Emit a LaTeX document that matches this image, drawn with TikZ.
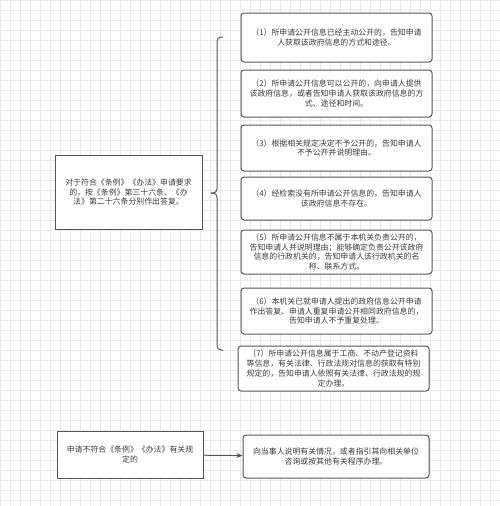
\documentclass[tikz,border=0pt]{standalone}
\usepackage{fontspec}
\setmainfont{Noto Sans CJK SC}
\usepackage{tikz}
\usetikzlibrary{arrows.meta, positioning}
\definecolor{boxline}{RGB}{85, 85, 85}
\definecolor{boxtext}{RGB}{60, 60, 60}
\definecolor{gridcol}{RGB}{232, 232, 232}
\tikzset{
    font=\fontsize{7.9pt}{9.8pt}\selectfont,
    optbox/.style={rectangle, rounded corners=3pt, draw=boxline, line width=1pt, fill=white, text=boxtext, align=center, inner sep=1pt, minimum width=191pt},
    casebox/.style={rectangle, draw=boxline, line width=0.9pt, fill=white, text=boxtext, align=center, inner sep=1pt},
    gridline/.style={draw=gridcol, line width=0.5pt},
    bracket/.style={draw=boxline, line width=1pt, rounded corners=4pt},
    arrow/.style={-{Stealth[length=6pt, width=5pt]}, draw=boxline, line width=1pt}
}

\begin{document}
\begin{tikzpicture}[x=1pt, y=-1pt]

    \useasboundingbox (0,0) rectangle (500,506);
    \fill[white] (0,0) rectangle (500,506);
    \draw[gridline, step=10pt] (0,0) grid (500,506);

    % Cases on the right
    \node (opt1) [optbox, minimum height=49pt] at (336.5,37.5) {（1）所申请公开信息已经主动公开的，告知申请\\人获取该政府信息的方式和途径。};
    \node (opt2) [optbox, minimum height=47pt, below=7pt of opt1] {（2）所申请公开信息可以公开的，向申请人提供\\该政府信息，或者告知申请人获取该政府信息的方\\式、途径和时间。};
    \node (opt3) [optbox, minimum height=46pt, below=7pt of opt2] {（3）根据相关规定决定不予公开的，告知申请人\\不予公开并说明理由。};
    \node (opt4) [optbox, minimum height=43pt, below=5pt of opt3] {（4）经检索没有所申请公开信息的，告知申请人\\该政府信息不存在。};
    \node (opt5) [optbox, minimum height=44pt, below=9pt of opt4] {（5）所申请公开信息不属于本机关负责公开的，\\告知申请人并说明理由；能够确定负责公开该政府\\信息的行政机关的，告知申请人该行政机关的名\\称、联系方式。};
    \node (opt6) [optbox, minimum height=46pt, below=13pt of opt5] {（6）本机关已就申请人提出的政府信息公开申请\\作出答复、申请人重复申请公开相同政府信息的，\\告知申请人不予重复处理。};
    \node (opt7) [optbox, minimum height=45pt, below=11pt of opt6, xshift=-3pt] {（7）所申请公开信息属于工商、不动产登记资料\\等信息，有关法律、行政法规对信息的获取有特别\\规定的，告知申请人依照有关法律、行政法规的规\\定办理。};

    % Request that fits
    \node (fits) [casebox, minimum width=147pt, minimum height=74pt] at (128.5,192) {对于符合《条例》《办法》申请要求\\的，按《条例》第三十六条、《办\\法》第二十六条分别作出答复。};

    % Brace
    \coordinate (braceTip) at (211,193);
    \draw[bracket] (223,37) -- (217,37) -- (217,193) -- (braceTip);
    \draw[bracket] (braceTip) -- (217,193) -- (217,350) -- (223,350);

    % Request that does not fit
    \node (nofit) [casebox, minimum width=146pt, minimum height=47pt] at (130,454.5) {申请不符合《条例》《办法》有关规\\定的};
    \node (guide) [optbox, minimum width=186pt, minimum height=43pt] at (336,456.5) {向当事人说明有关情况，或者指引其向相关单位\\咨询或按其他有关程序办理。};

    \draw[arrow] (nofit) -- (guide);

\end{tikzpicture}
\end{document}
